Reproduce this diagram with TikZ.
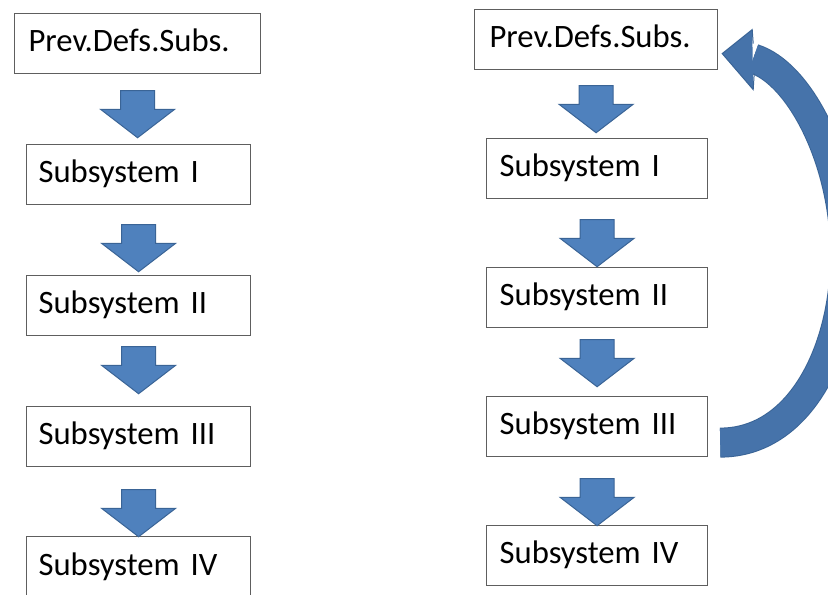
\documentclass[tikz,border=0pt]{standalone}
\usepackage{fontspec}
\setmainfont{Carlito}[WordSpace=0.75]
\usetikzlibrary{shapes.arrows,calc}

\definecolor{boxline}{HTML}{5E5E5E}
\definecolor{flowfill}{HTML}{4F81BD}
\definecolor{flowline}{HTML}{3A6496}
\definecolor{loopfill}{HTML}{4673AA}

\begin{document}
\begin{tikzpicture}[
    x=0.75pt, y=-0.75pt,
    panel/.style={draw=boxline, line width=0.9pt, anchor=north west, inner xsep=9pt, inner ysep=0pt,
        text height=12pt, text depth=0pt, align=left, minimum height=45pt, font=\fontsize{24.5}{30}\selectfont},
    sub/.style={panel, text width=150pt},
    prev/.style={panel, text width=163.5pt, inner xsep=10.5pt},
    subr/.style={panel, text width=146.25pt, inner xsep=9.75pt},
    prevr/.style={panel, text width=159.75pt, inner xsep=11.25pt},
    flow/.style={single arrow, draw=flowline, fill=flowfill, line width=0.75pt, shape border rotate=270,
        minimum height=33.75pt, minimum width=54.75pt, single arrow head extend=15pt,
        single arrow tip angle=105, single arrow head indent=0pt, inner sep=12.375pt, anchor=tail}
]
\useasboundingbox (0,0) rectangle (828,595);

% Left chain
\node[prev] (p1) at (14,13) {Prev.Defs.Subs.};
\node[sub] (s1) at (26,144) {Subsystem I};
\node[sub] (s2) at (26,275) {Subsystem II};
\node[sub] (s3) at (26,406) {Subsystem III};
\node[sub, minimum height=46.5pt] (s4) at (26,536) {Subsystem IV};

\node[flow] (f1) at ($(p1.south)+(0,16)$) {};
\node[flow] (f2) at ($(s1.south)+(0,19)$) {};
\node[flow] (f3) at ($(s2.south)+(0,10)$) {};
\node[flow] (f4) at ($(s3.south)+(0,22)$) {};

% Right chain
\node[prevr] (p2) at (474,9) {Prev.Defs.Subs.};
\node[subr] (s1r) at (486,138) {Subsystem I};
\node[subr] (s2r) at (486,267) {Subsystem II};
\node[subr] (s3r) at (486,396) {Subsystem III};
\node[subr] (s4r) at (486,525) {Subsystem IV};

\node[flow] (f1r) at ($(p2.south)+(0,15)$) {};
\node[flow] (f2r) at ($(s1r.south)+(0,20)$) {};
\node[flow] (f3r) at ($(s2r.south)+(0,11)$) {};
\node[flow] (f4r) at ($(s3r.south)+(0,21)$) {};

% Loop back from Subsystem III to Prev.Defs.Subs.
\coordinate (tail) at ($(s3r.east)+(12,16)$);
\coordinate (tip) at ($(p2.east)+(4,14)$);
\coordinate (bend) at (845,255);
\coordinate (neck) at ($(tip)+(31,5)$);
\begin{scope}
\clip (0,0) rectangle (828,595);
\draw[flowline, line width=22.5pt] (tail) .. controls +(80,0) and +(0,95) .. (bend)
    .. controls +(0,-95) and +(46,14) .. (neck);
\draw[loopfill, line width=21pt] (tail) .. controls +(80,0) and +(0,95) .. (bend)
    .. controls +(0,-95) and +(46,14) .. (neck);
\fill[loopfill] (tip) -- ++(30,-24) -- ++(1,60) -- cycle;
\draw[flowline, line width=0.75pt] ($(tip)+(31,-10)$) -- ($(tip)+(30,-24)$) -- (tip)
    -- ($(tip)+(31,36)$) -- ($(tip)+(32,20)$);
\end{scope}
\end{tikzpicture}
\end{document}
